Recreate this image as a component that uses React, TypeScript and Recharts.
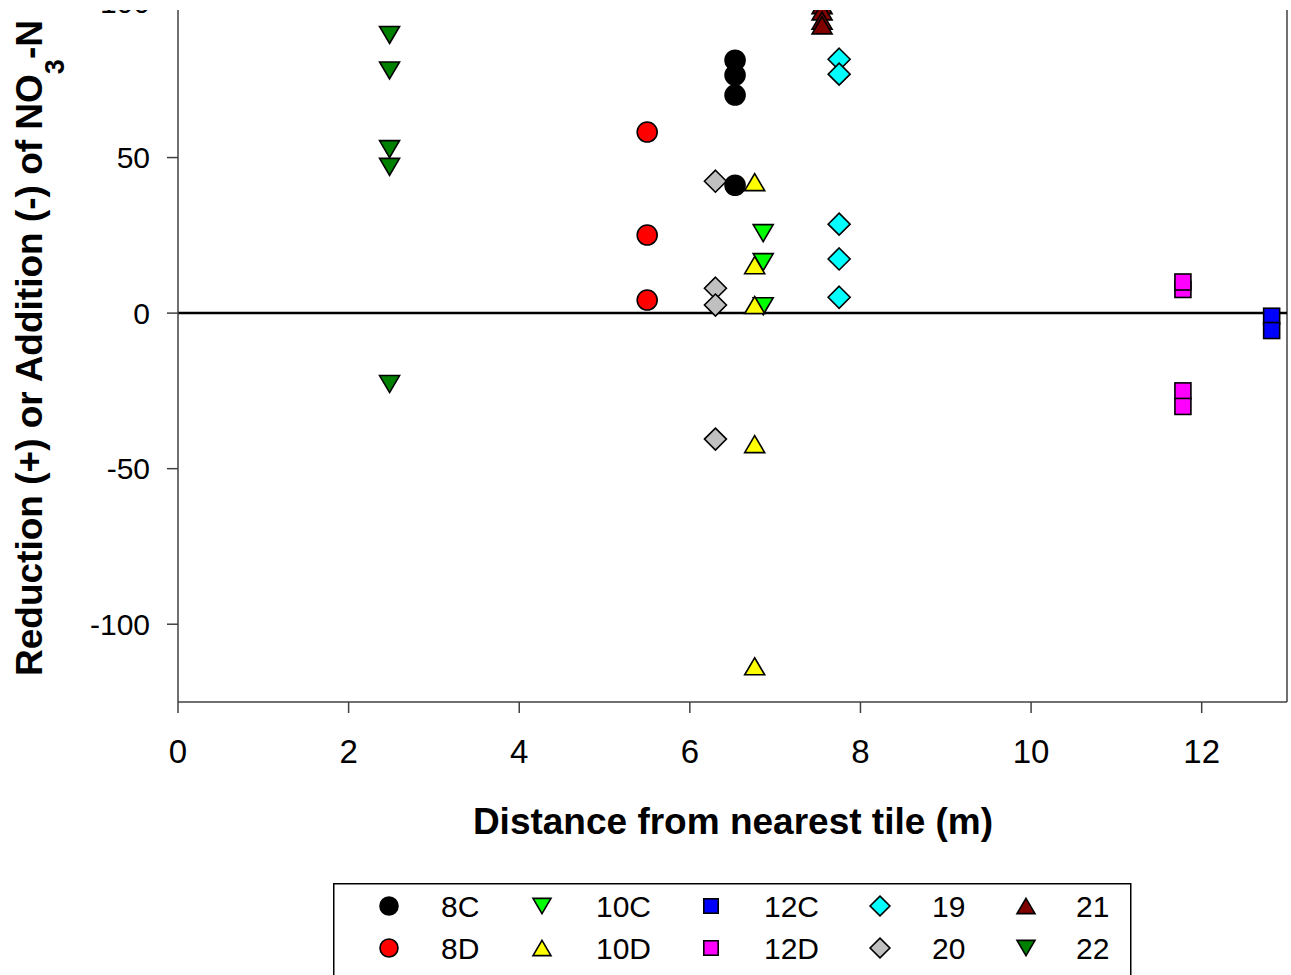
import React from "react";
import { ScatterChart, Scatter, XAxis, YAxis, ReferenceLine, Legend } from "recharts";

const FONT = "Arial, 'Liberation Sans', Helvetica, sans-serif";
const AXIS = "#404040";

const X_TICKS = [0, 2, 4, 6, 8, 10, 12];
const Y_TICKS = [-100, -50, 0, 50, 100];

// distance from tile (m) and NO3-N change (%) per site
const DIST_8C = 6.53;
const VAL_8C = [81.3, 76.5, 70.1, 41.1];
const DIST_8D = 5.5;
const VAL_8D = [58.2, 25.1, 4.2];
const DIST_10C = 6.86;
const VAL_10C = [25.7, 16.4, 2.2];
const DIST_10D = 6.76;
const VAL_10D = [42.1, 15.4, 2.6, -42.1, -113.5];
const DIST_12C = 12.82;
const VAL_12C = [-1, -5.6];
const DIST_12D = 11.78;
const VAL_12D = [7.6, 10, -25, -30];
const DIST_19 = 7.75;
const VAL_19 = [81.6, 76.8, 28.6, 17.4, 5.1];
const DIST_20 = 6.3;
const VAL_20 = [42.4, 8, 2.6, -40.5];
const DIST_21 = 7.55;
const VAL_21 = [99, 97, 94, 92.5];
const DIST_22 = 2.48;
const VAL_22 = [89.4, 78, 52.7, 47, -22.8];

type Kind = "circle" | "up" | "down" | "square" | "diamond";

const STYLE: Record<string, { kind: Kind; fill: string }> = {
  "8C": { kind: "circle", fill: "#000000" },
  "8D": { kind: "circle", fill: "#ff0000" },
  "10C": { kind: "down", fill: "#00ff00" },
  "10D": { kind: "up", fill: "#ffff00" },
  "12C": { kind: "square", fill: "#0000ff" },
  "12D": { kind: "square", fill: "#ff00ff" },
  "19": { kind: "diamond", fill: "#00ffff" },
  "20": { kind: "diamond", fill: "#c0c0c0" },
  "21": { kind: "up", fill: "#800000" },
  "22": { kind: "down", fill: "#008000" },
};

const toPoints = (x: number, ys: number[]) => ys.map((y) => ({ x, y }));

const SERIES: { name: string; data: { x: number; y: number }[] }[] = [
  { name: "20", data: toPoints(DIST_20, VAL_20) },
  { name: "19", data: toPoints(DIST_19, VAL_19) },
  { name: "21", data: toPoints(DIST_21, VAL_21) },
  { name: "22", data: toPoints(DIST_22, VAL_22) },
  { name: "8C", data: toPoints(DIST_8C, VAL_8C) },
  { name: "8D", data: toPoints(DIST_8D, VAL_8D) },
  { name: "10C", data: toPoints(DIST_10C, VAL_10C) },
  { name: "10D", data: toPoints(DIST_10D, VAL_10D) },
  { name: "12C", data: toPoints(DIST_12C, VAL_12C) },
  { name: "12D", data: toPoints(DIST_12D, VAL_12D) },
];

const LEGEND_COLUMNS = [
  ["8C", "8D"],
  ["10C", "10D"],
  ["12C", "12D"],
  ["19", "20"],
  ["21", "22"],
];

function Marker({ kind, x, y, fill, k = 1 }: { kind: Kind; x: number; y: number; fill: string; k?: number }) {
  const sw = 1.6;
  if (kind === "circle") {
    return <circle cx={x} cy={y} r={10 * k} fill={fill} stroke="#000" strokeWidth={sw} />;
  }
  if (kind === "square") {
    const w = 16 * k;
    const h = 16 * k;
    return <rect x={x - w / 2} y={y - h / 2} width={w} height={h} fill={fill} stroke="#000" strokeWidth={sw} />;
  }
  if (kind === "diamond") {
    const r = 11 * k;
    return (
      <path d={`M${x},${y - r}L${x + r},${y}L${x},${y + r}L${x - r},${y}Z`} fill={fill} stroke="#000" strokeWidth={sw} strokeLinejoin="miter" />
    );
  }
  const w = 10 * k;
  const h = 8.5 * k;
  const d =
    kind === "up"
      ? `M${x},${y - h}L${x + w},${y + h}L${x - w},${y + h}Z`
      : `M${x},${y + h}L${x + w},${y - h}L${x - w},${y - h}Z`;
  return <path d={d} fill={fill} stroke="#000" strokeWidth={sw} />;
}

const makeShape = (name: string) => (props: any) => {
  const s = STYLE[name];
  return <Marker kind={s.kind} x={props.cx} y={props.cy} fill={s.fill} />;
};

function LegendBox() {
  const markX = [56, 209, 378, 547, 693];
  const textX = [108, 263, 431, 599, 743];
  const rowY = [23, 65];
  return (
    <svg width={800} height={110} style={{ display: "block" }}>
      <rect x={0.75} y={0.75} width={797} height={130} fill="#fff" stroke="#000" strokeWidth={1.5} />
      {LEGEND_COLUMNS.map((col, ci) =>
        col.map((name, ri) => {
          const s = STYLE[name];
          return (
            <g key={name}>
              <Marker kind={s.kind} x={markX[ci]} y={rowY[ri]} fill={s.fill} k={0.9} />
              <text x={textX[ci]} y={rowY[ri] + 11} fontSize={30} fontFamily={FONT} fill="#000">
                {name}
              </text>
            </g>
          );
        })
      )}
    </svg>
  );
}

const YTitle = () => (
  <text
    transform="translate(42,388) rotate(-90)"
    textAnchor="middle"
    fontSize={37}
    fontWeight="bold"
    fontFamily={FONT}
    fill="#000"
  >
    Reduction (+) or Addition (-) of NO
    <tspan fontSize={27} dy={22}>3</tspan>
    <tspan dy={-22}>-N</tspan>
  </text>
);

const XTitle = () => (
  <text x={733} y={874} textAnchor="middle" fontSize={37} fontWeight="bold" fontFamily={FONT} fill="#000">
    Distance from nearest tile (m)
  </text>
);

export default function App() {
  return (
    <div
      style={{
        position: "fixed",
        left: 0,
        top: 0,
        width: 1291,
        height: 975,
        background: "#fff",
        overflow: "hidden",
        fontFamily: FONT,
      }}
    >
      <div style={{ position: "absolute", left: 0, top: 10, width: 1291, height: 965, overflow: "hidden" }}>
        <div style={{ position: "absolute", left: 0, top: -50 }}>
          <ScatterChart width={1291} height={1015} margin={{ top: 42, right: 4, bottom: 153, left: 78 }}>
            <XAxis
              type="number"
              dataKey="x"
              domain={[0, 13]}
              ticks={X_TICKS}
              allowDataOverflow
              height={120}
              stroke={AXIS}
              strokeWidth={1.5}
              tickSize={11}
              tickMargin={27}
              tick={{ fontSize: 33, fill: "#000", fontFamily: FONT }}
              tickLine={{ stroke: AXIS, strokeWidth: 1.5 }}
              label={{ content: () => <XTitle /> }}
            />
            <YAxis
              type="number"
              dataKey="y"
              domain={[-125, 100]}
              ticks={Y_TICKS}
              allowDataOverflow
              width={100}
              stroke={AXIS}
              strokeWidth={1.5}
              tickSize={11}
              tickMargin={17}
              tick={{ fontSize: 30, fill: "#000", fontFamily: FONT }}
              tickLine={{ stroke: AXIS, strokeWidth: 1.5 }}
              label={{ content: () => <YTitle /> }}
            />
            <ReferenceLine x={13} stroke={AXIS} strokeWidth={1.5} />
            <ReferenceLine y={0} stroke="#000" strokeWidth={2.5} />
            {SERIES.map((s) => (
              <Scatter
                key={s.name}
                name={s.name}
                data={s.data}
                shape={makeShape(s.name)}
                isAnimationActive={false}
              />
            ))}
            <Legend
              layout="horizontal"
              verticalAlign="middle"
              content={() => <LegendBox />}
              wrapperStyle={{ position: "absolute", left: 333, top: 923, width: 800, height: 110 }}
            />
          </ScatterChart>
        </div>
      </div>
    </div>
  );
}
